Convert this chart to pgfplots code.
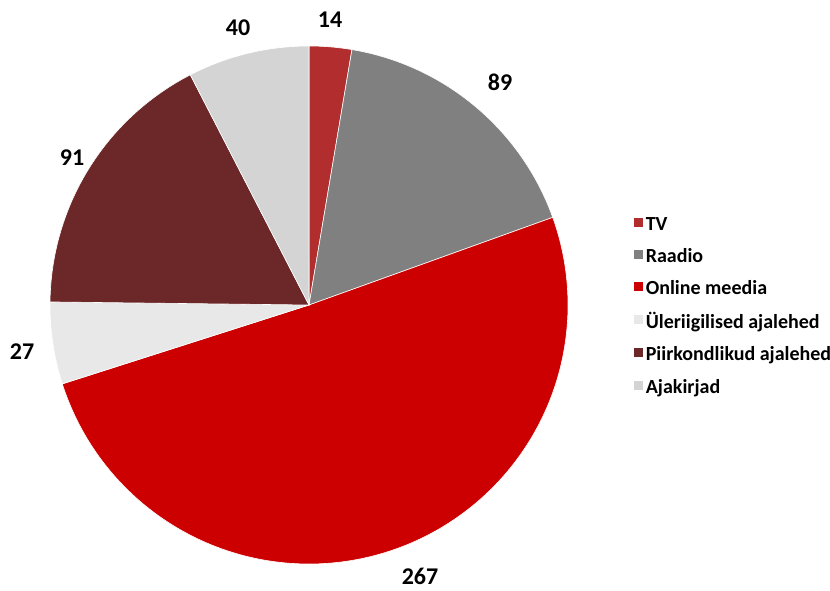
\documentclass[border=0pt]{standalone}
\usepackage{pgfplots}
\pgfplotsset{compat=1.18}
\usepackage{fontspec}
\setmainfont{Carlito}
\definecolor{cTV}{RGB}{178,45,45}
\definecolor{cRa}{RGB}{128,128,128}
\definecolor{cOn}{RGB}{204,0,0}
\definecolor{cUl}{RGB}{232,232,232}
\definecolor{cPi}{RGB}{108,40,40}
\definecolor{cAj}{RGB}{212,212,212}
% data
\def\vA{14}\def\vB{89}\def\vC{267}\def\vD{27}\def\vE{91}\def\vF{40}
\pgfmathsetmacro\tot{\vA+\vB+\vC+\vD+\vE+\vF}
\pgfmathsetmacro\k{360/\tot}
\def\cx{309}\def\cy{285}\def\R{259}
\pgfmathsetmacro\aA{90}
\pgfmathsetmacro\aB{\aA-\k*\vA}
\pgfmathsetmacro\aC{\aB-\k*\vB}
\pgfmathsetmacro\aD{\aC-\k*\vC}
\pgfmathsetmacro\aE{\aD-\k*\vD}
\pgfmathsetmacro\aF{\aE-\k*\vE}
\pgfmathsetmacro\aG{\aF-\k*\vF}
\begin{document}
\begin{tikzpicture}
\begin{axis}[
  anchor=origin, at={(0,0)},
  scale only axis, width=830pt, height=590pt,
  xmin=0, xmax=830, ymin=0, ymax=590,
  hide axis, clip=false,
  legend style={at={(axis cs:630,377)}, anchor=north west, draw=none, fill=none,
    font=\fontsize{20}{23}\selectfont\bfseries, row sep=12.6pt,
    /tikz/every even column/.style={column sep=0pt}},
  legend cell align=left,
  legend image code/.code={\fill[#1] (0pt,-3pt) rectangle (10pt,7pt);},
]
\addplot[fill=cTV, draw=white, line width=0.6pt, domain=\aB:\aA, samples=20, variable=\t] ({\cx+\R*cos(\t)},{\cy+\R*sin(\t)}) -- (axis cs:\cx,\cy) -- cycle;
\addlegendentry{TV}
\addplot[fill=cRa, draw=white, line width=0.6pt, domain=\aC:\aB, samples=60, variable=\t] ({\cx+\R*cos(\t)},{\cy+\R*sin(\t)}) -- (axis cs:\cx,\cy) -- cycle;
\addlegendentry{Raadio}
\addplot[fill=cOn, draw=white, line width=0.6pt, domain=\aD:\aC, samples=150, variable=\t] ({\cx+\R*cos(\t)},{\cy+\R*sin(\t)}) -- (axis cs:\cx,\cy) -- cycle;
\addlegendentry{Online meedia}
\addplot[fill=cUl, draw=white, line width=0.6pt, domain=\aE:\aD, samples=20, variable=\t] ({\cx+\R*cos(\t)},{\cy+\R*sin(\t)}) -- (axis cs:\cx,\cy) -- cycle;
\addlegendentry{Üleriigilised ajalehed}
\addplot[fill=cPi, draw=white, line width=0.6pt, domain=\aF:\aE, samples=60, variable=\t] ({\cx+\R*cos(\t)},{\cy+\R*sin(\t)}) -- (axis cs:\cx,\cy) -- cycle;
\addlegendentry{Piirkondlikud ajalehed}
\addplot[fill=cAj, draw=white, line width=0.6pt, domain=\aG:\aF, samples=30, variable=\t] ({\cx+\R*cos(\t)},{\cy+\R*sin(\t)}) -- (axis cs:\cx,\cy) -- cycle;
\addlegendentry{Ajakirjad}
\begin{scope}[every node/.style={font=\fontsize{24}{27}\selectfont\bfseries, inner sep=0pt}]
\node at (axis cs:330,570) {\vA};
\node at (axis cs:500,508) {\vB};
\node at (axis cs:420,14) {\vC};
\node at (axis cs:22,238) {\vD};
\node at (axis cs:72,432) {\vE};
\node at (axis cs:238,562) {\vF};
\end{scope}
\end{axis}
\pgfresetboundingbox
\useasboundingbox (0,0) rectangle (830pt,590pt);
\end{tikzpicture}
\end{document}
